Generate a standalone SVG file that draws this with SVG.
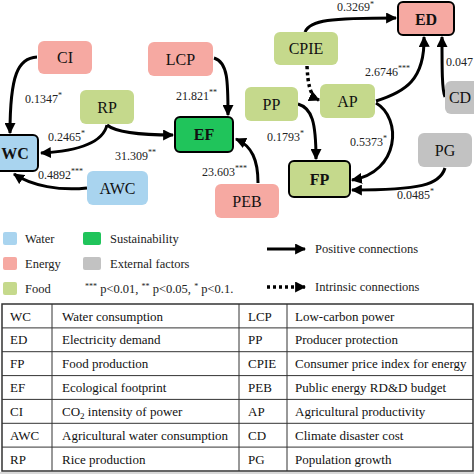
<svg xmlns="http://www.w3.org/2000/svg" width="474" height="474" viewBox="0 0 474 474">
<defs>
<marker id="ah" viewBox="0 0 10 10" refX="9" refY="5" markerWidth="11" markerHeight="11" markerUnits="userSpaceOnUse" orient="auto">
<path d="M0,0 L10,5 L0,10 Z" fill="#000"/>
</marker>
</defs>
<style>
text{font-family:"Liberation Serif","Times New Roman",serif;fill:#111}
.nl{font-size:16px;text-anchor:middle}
.nb{font-size:16px;text-anchor:middle;font-weight:bold}
.el{font-size:12px;fill:#222}
.st{font-size:8px}
.lg{font-size:12.5px;fill:#222}
.tb{font-size:13px;fill:#111}
.water{fill:#a9d4ef}
.energy{fill:#f6a9a2}
.food{fill:#c5d98c}
.sust{fill:#20c45b}
.ext{fill:#c2c2c2}
.bd{stroke:#000;stroke-width:2}
.edge{fill:none;stroke:#000;stroke-width:3;marker-end:url(#ah)}
.dot{fill:none;stroke:#000;stroke-width:3.5;stroke-dasharray:3 3;marker-end:url(#ah)}
.tl{stroke:#333;stroke-width:1}
</style>
<rect width="474" height="474" fill="#fff"/>

<g id="connectors">
<path class="edge" d="M37,57 C18,58 10,75 10,133"/>
<path class="edge" d="M214,58 C228,62 228,82 228,115"/>
<path class="edge" d="M107,125 C103,142 80,151 41,153"/>
<path class="edge" d="M107,125 C118,134 148,135 173,135"/>
<path class="edge" d="M87,188 C60,191 32,186 14,174"/>
<path class="edge" d="M258,183 C258,160 252,146 236,139"/>
<path class="edge" d="M305,32 C310,20 330,18 396,18"/>
<path class="dot" d="M307,66 C308,85 310,96 319,100"/>
<path class="edge" d="M376,101 C405,92 425,80 424,37"/>
<path class="edge" d="M445,97 C442,90 442,70 442,37"/>
<path class="edge" d="M298,104 C312,108 316,122 316,159"/>
<path class="edge" d="M376,103 C402,118 400,172 352,180"/>
<path class="edge" d="M445,168 C440,185 420,190 352,190"/>
</g>

<g id="labels">
<text class="el" x="25" y="103">0.1347<tspan class="st" dy="-5">*</tspan></text>
<text class="el" x="176" y="100">21.821<tspan class="st" dy="-5">**</tspan></text>
<text class="el" x="48" y="141">0.2465<tspan class="st" dy="-5">*</tspan></text>
<text class="el" x="115" y="160">31.309<tspan class="st" dy="-5">**</tspan></text>
<text class="el" x="38" y="179">0.4892<tspan class="st" dy="-5">***</tspan></text>
<text class="el" x="202" y="176">23.603<tspan class="st" dy="-5">***</tspan></text>
<text class="el" x="337" y="11">0.3269<tspan class="st" dy="-4">*</tspan></text>
<text class="el" x="365" y="76">2.6746<tspan class="st" dy="-5">***</tspan></text>
<text class="el" x="446" y="66">0.047</text>
<text class="el" x="267" y="141">0.1793<tspan class="st" dy="-5">*</tspan></text>
<text class="el" x="350" y="146">0.5373<tspan class="st" dy="-5">*</tspan></text>
<text class="el" x="397" y="199">0.0485<tspan class="st" dy="-5">*</tspan></text>
</g>

<g id="CI"><rect class="energy" x="38" y="41" width="54" height="33" rx="6"/><text class="nl" x="65" y="63">CI</text></g>
<g id="LCP"><rect class="energy" x="148" y="42" width="65" height="34" rx="6"/><text class="nl" x="180.5" y="64.5">LCP</text></g>
<g id="RP"><rect class="food" x="80" y="90" width="54" height="34" rx="6"/><text class="nl" x="107" y="112.5">RP</text></g>
<g id="EF"><rect class="sust bd" x="175" y="117" width="58" height="35" rx="5"/><text class="nb" x="204" y="140">EF</text></g>
<g id="WC"><rect class="water bd" x="-16" y="135" width="54" height="36" rx="5"/><text class="nb" x="15" y="158.5">WC</text></g>
<g id="AWC"><rect class="water" x="87" y="171" width="61" height="34" rx="6"/><text class="nl" x="117.5" y="193.5">AWC</text></g>
<g id="PEB"><rect class="energy" x="215" y="184" width="64" height="34" rx="6"/><text class="nl" x="247" y="206.5">PEB</text></g>
<g id="ED"><rect class="energy bd" x="398" y="2" width="56" height="33" rx="5"/><text class="nb" x="426" y="24.5">ED</text></g>
<g id="CPIE"><rect class="food" x="274" y="32" width="64" height="33" rx="6"/><text class="nl" x="306" y="54">CPIE</text></g>
<g id="PP"><rect class="food" x="245" y="87" width="53" height="34" rx="6"/><text class="nl" x="271.5" y="109.5">PP</text></g>
<g id="AP"><rect class="food" x="320" y="84" width="55" height="34" rx="6"/><text class="nl" x="347.5" y="106.5">AP</text></g>
<g id="FP"><rect class="food bd" x="289" y="161" width="61" height="36" rx="5"/><text class="nb" x="319.5" y="184.5">FP</text></g>
<g id="PG"><rect class="ext" x="418" y="133" width="54" height="34" rx="6"/><text class="nl" x="445" y="155.5">PG</text></g>
<g id="CD"><rect class="ext" x="445" y="81" width="55" height="33" rx="6"/><text class="nl" x="460" y="103">CD</text></g>

<g id="legend">
<rect class="water" x="3" y="232" width="14" height="13" rx="2"/><text class="lg" x="25" y="243">Water</text>
<rect class="energy" x="3" y="257" width="14" height="13" rx="2"/><text class="lg" x="25" y="268">Energy</text>
<rect class="food" x="3" y="282" width="14" height="13" rx="2"/><text class="lg" x="25" y="293">Food</text>
<rect class="sust" x="83" y="232" width="18" height="13" rx="2"/><text class="lg" x="110" y="243">Sustainability</text>
<rect class="ext" x="83" y="257" width="18" height="13" rx="2"/><text class="lg" x="110" y="268">External factors</text>
<text class="lg" x="85" y="293"><tspan class="st" dy="-4">***</tspan><tspan dy="4"> p&lt;0.01, </tspan><tspan class="st" dy="-4">**</tspan><tspan dy="4"> p&lt;0.05, </tspan><tspan class="st" dy="-4">*</tspan><tspan dy="4"> p&lt;0.1.</tspan></text>
<path class="edge" d="M267,249 L305,249"/>
<text class="lg" x="315" y="253">Positive connections</text>
<path class="dot" d="M267,287 L305,287"/>
<text class="lg" x="315" y="291">Intrinsic connections</text>
</g>

<g id="table">
<rect x="2" y="304" width="471" height="167" fill="#fff" stroke="#333" stroke-width="1.5"/>
<line class="tl" x1="2" y1="327.9" x2="473" y2="327.9"/>
<line class="tl" x1="2" y1="351.7" x2="473" y2="351.7"/>
<line class="tl" x1="2" y1="375.6" x2="473" y2="375.6"/>
<line class="tl" x1="2" y1="399.4" x2="473" y2="399.4"/>
<line class="tl" x1="2" y1="423.3" x2="473" y2="423.3"/>
<line class="tl" x1="2" y1="447.1" x2="473" y2="447.1"/>
<line class="tl" x1="52" y1="304" x2="52" y2="471"/>
<line class="tl" x1="239" y1="304" x2="239" y2="471"/>
<line class="tl" x1="287" y1="304" x2="287" y2="471"/>
<text class="tb" x="10" y="320.5">WC</text><text class="tb" x="62" y="320.5">Water consumption</text>
<text class="tb" x="248" y="320.5">LCP</text><text class="tb" x="295" y="320.5">Low-carbon power</text>
<text class="tb" x="10" y="344.3">ED</text><text class="tb" x="62" y="344.3">Electricity demand</text>
<text class="tb" x="248" y="344.3">PP</text><text class="tb" x="295" y="344.3">Producer protection</text>
<text class="tb" x="10" y="368.2">FP</text><text class="tb" x="62" y="368.2">Food production</text>
<text class="tb" x="248" y="368.2">CPIE</text><text class="tb" x="295" y="368.2">Consumer price index for energy</text>
<text class="tb" x="10" y="392">EF</text><text class="tb" x="62" y="392">Ecological footprint</text>
<text class="tb" x="248" y="392">PEB</text><text class="tb" x="295" y="392">Public energy RD&amp;D budget</text>
<text class="tb" x="10" y="415.9">CI</text><text class="tb" x="62" y="415.9">CO<tspan font-size="9" dy="3">2</tspan><tspan dy="-3"> intensity of power</tspan></text>
<text class="tb" x="248" y="415.9">AP</text><text class="tb" x="295" y="415.9">Agricultural productivity</text>
<text class="tb" x="10" y="439.7">AWC</text><text class="tb" x="62" y="439.7">Agricultural water consumption</text>
<text class="tb" x="248" y="439.7">CD</text><text class="tb" x="295" y="439.7">Climate disaster cost</text>
<text class="tb" x="10" y="463.6">RP</text><text class="tb" x="62" y="463.6">Rice production</text>
<text class="tb" x="248" y="463.6">PG</text><text class="tb" x="295" y="463.6">Population growth</text>
</g>
<rect x="0" y="472" width="474" height="2" fill="#d8d8d8"/>
</svg>
